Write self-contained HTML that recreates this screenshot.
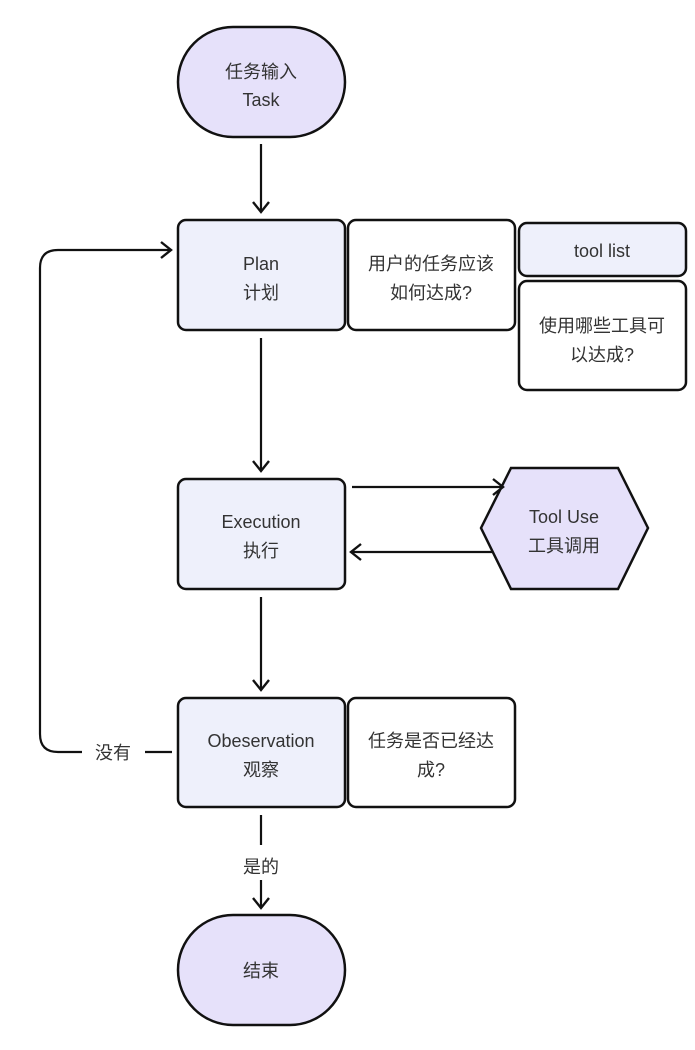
<!DOCTYPE html>
<html><head><meta charset="utf-8"><style>
body{margin:0;background:#fff;}
svg text{font-family:"Liberation Sans","Noto Sans CJK SC",sans-serif;font-size:18px;fill:#333;text-anchor:middle;}
</style></head><body>
<svg width="695" height="1045" viewBox="0 0 695 1045" xmlns="http://www.w3.org/2000/svg">
<defs><marker id="a" markerWidth="16" markerHeight="18" refX="12" refY="9" orient="auto" markerUnits="userSpaceOnUse"><path d="M2,1 L12,9 L2,17" fill="none" stroke="#111" stroke-width="2.4"/></marker></defs>
<g stroke="#111" stroke-width="2.5">
<rect x="178" y="27" width="167" height="110" rx="55" fill="#e6e1fa"/>
<rect x="178" y="220" width="167" height="110" rx="8" fill="#eef0fb"/>
<rect x="348" y="220" width="167" height="110" rx="8" fill="#fff"/>
<rect x="519" y="223" width="167" height="53" rx="8" fill="#eef0fb"/>
<rect x="519" y="281" width="167" height="109" rx="8" fill="#fff"/>
<rect x="178" y="479" width="167" height="110" rx="8" fill="#eef0fb"/>
<polygon points="481,528 511,468 618,468 648,528 618,589 511,589" fill="#e6e1fa"/>
<rect x="178" y="698" width="167" height="109" rx="8" fill="#eef0fb"/>
<rect x="348" y="698" width="167" height="109" rx="8" fill="#fff"/>
<rect x="178" y="915" width="167" height="110" rx="55" fill="#e6e1fa"/>
</g>
<g stroke="#111" stroke-width="2.2" fill="none">
<line x1="261" y1="144" x2="261" y2="212" marker-end="url(#a)"/>
<line x1="261" y1="338" x2="261" y2="471" marker-end="url(#a)"/>
<line x1="352" y1="487" x2="503" y2="487" marker-end="url(#a)"/>
<line x1="493" y1="552" x2="351" y2="552" marker-end="url(#a)"/>
<line x1="261" y1="597" x2="261" y2="690" marker-end="url(#a)"/>
<path d="M172,752 H145 M82,752 H58 Q40,752 40,734 V268 Q40,250 58,250 H171" marker-end="url(#a)"/>
<line x1="261" y1="815" x2="261" y2="845"/>
<line x1="261" y1="880" x2="261" y2="908" marker-end="url(#a)"/>
</g>
<text x="261" y="78">任务输入</text><text x="261" y="106">Task</text>
<text x="261" y="270">Plan</text><text x="261" y="299">计划</text>
<text x="431" y="270">用户的任务应该</text><text x="431" y="299">如何达成?</text>
<text x="602" y="257">tool list</text>
<text x="602" y="332">使用哪些工具可</text><text x="602" y="361">以达成?</text>
<text x="261" y="528">Execution</text><text x="261" y="557">执行</text>
<text x="564" y="523">Tool Use</text><text x="564" y="552">工具调用</text>
<text x="261" y="747">Obeservation</text><text x="261" y="776">观察</text>
<text x="431" y="747">任务是否已经达</text><text x="431" y="776">成?</text>
<text x="113" y="759">没有</text>
<text x="261" y="873">是的</text>
<text x="261" y="977">结束</text>
</svg>
</body></html>
